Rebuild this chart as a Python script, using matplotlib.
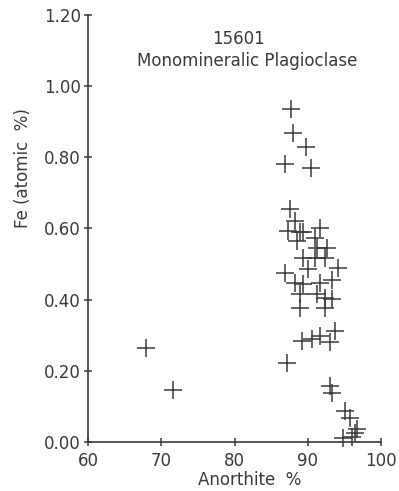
import matplotlib
matplotlib.use("Agg")
import matplotlib.pyplot as plt

anorthite = [67.9, 71.6,
             87.7, 88.0, 89.8, 86.9, 90.4, 87.6,
             88.3, 87.3, 88.9, 89.35, 91.7, 88.5, 91.0, 92.6, 91.3,
             89.35, 91.0, 92.35, 94.1, 90.0, 86.9,
             88.3, 89.35, 91.7, 93.3, 88.9, 91.3, 92.35, 93.3, 88.9, 92.35,
             89.2, 90.6, 91.7, 93.0, 93.7, 87.2,
             93.0, 93.3, 95.1, 95.8, 96.7, 94.8, 96.0, 96.45]
fe = [0.265, 0.146,
      0.935, 0.868, 0.828, 0.780, 0.769, 0.656,
      0.620, 0.594, 0.589, 0.589, 0.600, 0.566, 0.572, 0.546, 0.546,
      0.518, 0.518, 0.518, 0.490, 0.487, 0.476,
      0.448, 0.445, 0.448, 0.454, 0.417, 0.417, 0.406, 0.403, 0.377, 0.377,
      0.285, 0.290, 0.299, 0.282, 0.313, 0.223,
      0.158, 0.138, 0.087, 0.068, 0.037, 0.011, 0.014, 0.025]

x_ticks = [60, 70, 80, 90, 100]
y_ticks = [0.0, 0.2, 0.4, 0.6, 0.8, 1.0, 1.2]
y_tick_labels = ["0.00", "0.20", "0.40", "0.60", "0.80", "1.00", "1.20"]

title1 = "15601"
title2 = "Monomineralic Plagioclase"
xlabel = "Anorthite  %"
ylabel = "Fe (atomic  %)"

col = "#3a3a3a"
plt.rcParams['font.family'] = ['DejaVu Sans']

W, H = 399, 491
fig = plt.figure(figsize=(W/100, H/100), dpi=100)
ax = fig.add_axes([88/W, 1-442/H, (381-88)/W, (442-15)/H])
ax.scatter(anorthite, fe, marker='+', s=150, color=col, linewidths=1.1, clip_on=False)
ax.set_xlim(60, 100)
ax.set_ylim(0, 1.2)
ax.set_xticks(x_ticks)
ax.set_yticks(y_ticks)
ax.set_yticklabels(y_tick_labels)
for s in ['top', 'right']:
    ax.spines[s].set_visible(False)
for s in ['left', 'bottom']:
    ax.spines[s].set_color(col)
    ax.spines[s].set_linewidth(1.2)
ax.tick_params(direction='inout', length=6, width=1.1, colors=col, labelsize=12)
ax.tick_params(axis='x', pad=4)
ax.tick_params(axis='y', pad=2)
fig.text(250/W, 1-480/H, xlabel, ha='center', va='center', fontsize=12, color=col)
fig.text(23/W, 1-168/H, ylabel, ha='center', va='center', fontsize=12, color=col, rotation=90)
fig.text(239/W, 1-39/H, title1, ha='center', va='center', fontsize=12, color=col)
fig.text(247/W, 1-61/H, title2, ha='center', va='center', fontsize=12, color=col)
fig.savefig("out.png", dpi=100)
